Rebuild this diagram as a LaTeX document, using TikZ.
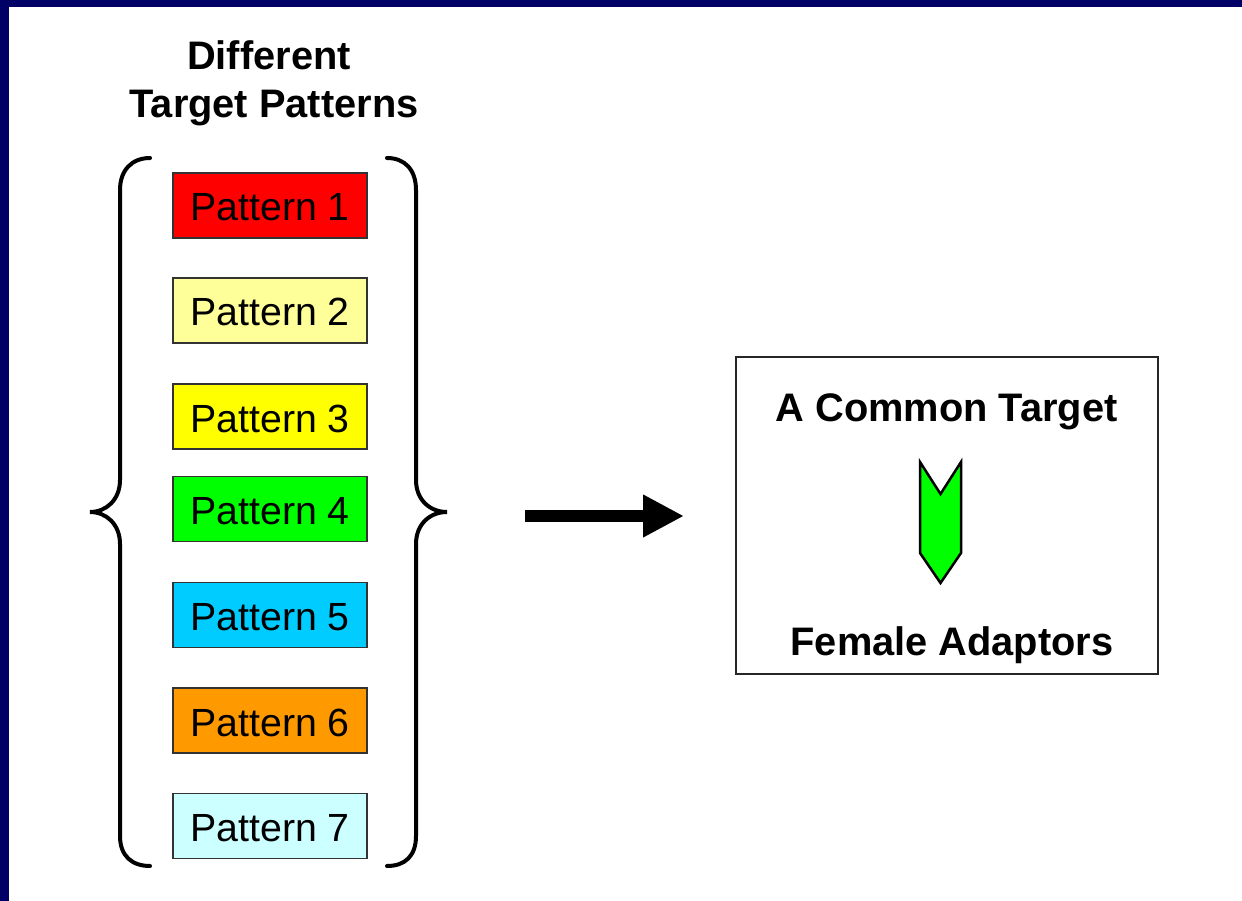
\documentclass[tikz,border=0pt]{standalone}
\usepackage{fontspec}
\setmainfont{Liberation Sans}
\usetikzlibrary{arrows.meta}
\definecolor{navy}{HTML}{000066}
\definecolor{pone}{HTML}{FF0000}
\definecolor{ptwo}{HTML}{FFFF99}
\definecolor{pthree}{HTML}{FFFF00}
\definecolor{pfour}{HTML}{00FF00}
\definecolor{pfive}{HTML}{00CCFF}
\definecolor{psix}{HTML}{FF9900}
\definecolor{pseven}{HTML}{CCFFFF}
\tikzset{
  patbox/.style={draw=black!80, line width=1.2pt, minimum width=194pt, minimum height=65pt, inner sep=0pt,
    text height=31pt, text depth=0pt, font=\fontsize{39.3}{46}\selectfont},
  bigtext/.style={font=\fontsize{39.8}{48}\selectfont\bfseries, align=center, inner sep=0pt},
  bracestyle/.style={line width=4pt, line cap=round},
}
\begin{document}
\begin{tikzpicture}[x=1pt,y=-1pt]
\useasboundingbox (0,0) rectangle (1242,901);
\fill[white] (0,0) rectangle (1242,901);
\fill[navy] (0,0) rectangle (1242,7);
\fill[navy] (0,0) rectangle (9,901);
% title
\node[bigtext, anchor=base] (t1) at (269,70) {Different};
\node[bigtext, anchor=base] (t2) at (274,118) {Target Patterns};
% pattern boxes
\node[patbox, fill=pone]   (p1) at (270,205.5) {Pattern 1};
\node[patbox, fill=ptwo]   (p2) at (270,310.5) {Pattern 2};
\node[patbox, fill=pthree] (p3) at (270,416.5) {Pattern 3};
\node[patbox, fill=pfour]  (p4) at (270,509)   {Pattern 4};
\node[patbox, fill=pfive]  (p5) at (270,615)   {Pattern 5};
\node[patbox, fill=psix]   (p6) at (270,720.5) {Pattern 6};
\node[patbox, fill=pseven] (p7) at (270,826)   {Pattern 7};
% braces
\draw[bracestyle] (150,158) .. controls (132,158) and (120,170) .. (120,190) -- (120,480)
  .. controls (120,500) and (106,512) .. (90,512)
  .. controls (106,512) and (120,524) .. (120,544) -- (120,836)
  .. controls (120,856) and (132,866) .. (150,866);
\draw[bracestyle] (387,158) .. controls (405,158) and (416,170) .. (416,190) -- (416,480)
  .. controls (416,500) and (430,512) .. (447,512)
  .. controls (430,512) and (416,524) .. (416,544) -- (416,836)
  .. controls (416,856) and (405,866) .. (387,866);
% block arrow
\coordinate (as) at (525,516);
\coordinate (ae) at (684,516);
\draw[line width=12pt, -{Triangle[length=41pt,width=40pt]}] (as) -- (ae);
% target box
\node[draw=black!85, line width=1.5pt, minimum width=422pt, minimum height=317pt, inner sep=0pt] (tb) at (947,515.5) {};
\node[bigtext, anchor=base] (ct) at (946.5,421) {A Common Target};
\node[bigtext, anchor=base] (fa) at (952,655) {Female Adaptors};
% female adaptor shape
\draw[fill=pfour, line width=2.5pt, line join=miter] (920,462) -- (940.5,494) -- (961,462) -- (961,553) -- (940.5,583) -- (920,553) -- cycle;
\end{tikzpicture}
\end{document}
